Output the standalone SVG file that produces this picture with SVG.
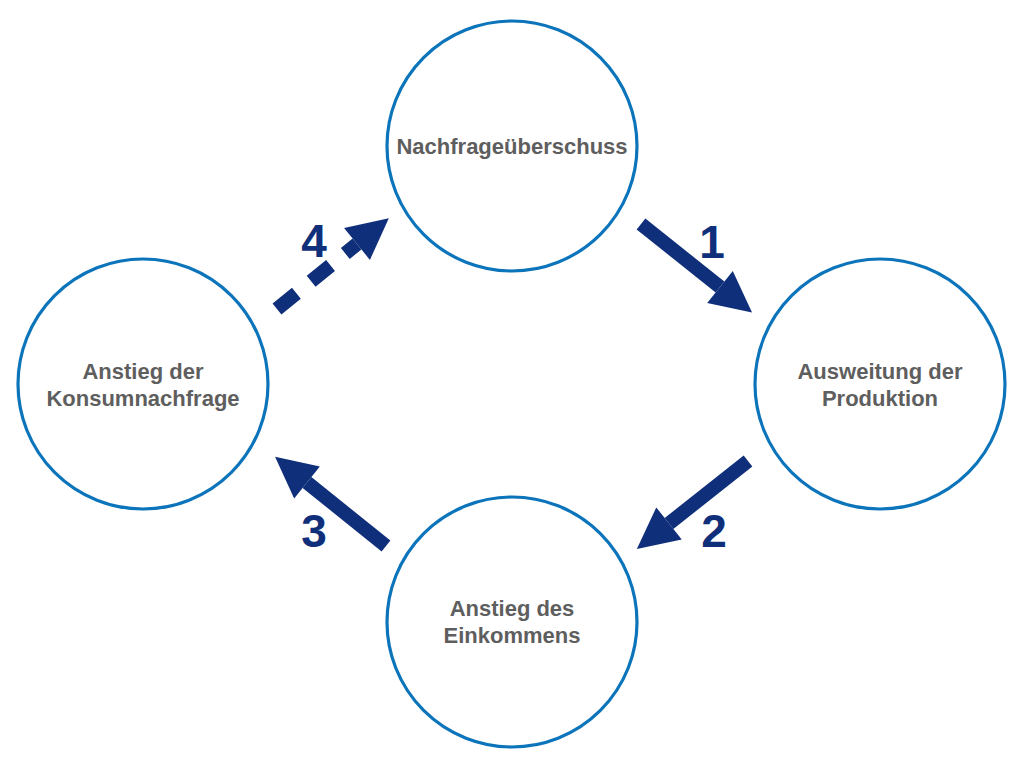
<svg xmlns="http://www.w3.org/2000/svg" width="1024" height="768" viewBox="0 0 1024 768">
<defs>
<style>
.node{fill:#ffffff;stroke:#0b74ba;stroke-width:3.2}
.lbl{font-family:"Liberation Sans",Arial,sans-serif;font-weight:bold;font-size:22px;fill:#5e5e5e;text-anchor:middle}
.num{font-family:"Liberation Sans",Arial,sans-serif;font-weight:bold;font-size:46px;fill:#102f7a;text-anchor:middle}
.arr{fill:none;stroke:#102f7a;stroke-width:14;marker-end:url(#head)}
.dash{stroke-dasharray:25 19}
</style>
<marker id="head" markerUnits="userSpaceOnUse" markerWidth="42" markerHeight="42" refX="0" refY="21" viewBox="0 0 42 42" orient="auto" overflow="visible">
<path d="M0,0.5 L41,21 L0,41.5 z" fill="#102f7a"/>
</marker>
</defs>
<rect width="1024" height="768" fill="#ffffff"/>
<g id="n-top"><circle class="node" cx="512" cy="146" r="125"/><text class="lbl" x="512" y="154">Nachfrageüberschuss</text></g>
<g id="n-right"><circle class="node" cx="880" cy="384" r="125"/><text class="lbl" x="880" y="379">Ausweitung der</text><text class="lbl" x="880" y="406">Produktion</text></g>
<g id="n-bottom"><circle class="node" cx="512" cy="622" r="125"/><text class="lbl" x="512" y="616">Anstieg des</text><text class="lbl" x="512" y="643">Einkommens</text></g>
<g id="n-left"><circle class="node" cx="143" cy="384" r="125"/><text class="lbl" x="143" y="379">Anstieg der</text><text class="lbl" x="143" y="406">Konsumnachfrage</text></g>
<g id="connectors">
<path class="arr" d="M641,224 L720,287"/>
<path class="arr" d="M748,461 L669,523.5"/>
<path class="arr" d="M386,546 L307,482.5"/>
<path class="arr dash" d="M277,309 L357,244"/>
<text class="num" x="712" y="258">1</text>
<text class="num" x="714" y="547">2</text>
<text class="num" x="314" y="547">3</text>
<text class="num" x="314" y="257">4</text>
</g>
</svg>
